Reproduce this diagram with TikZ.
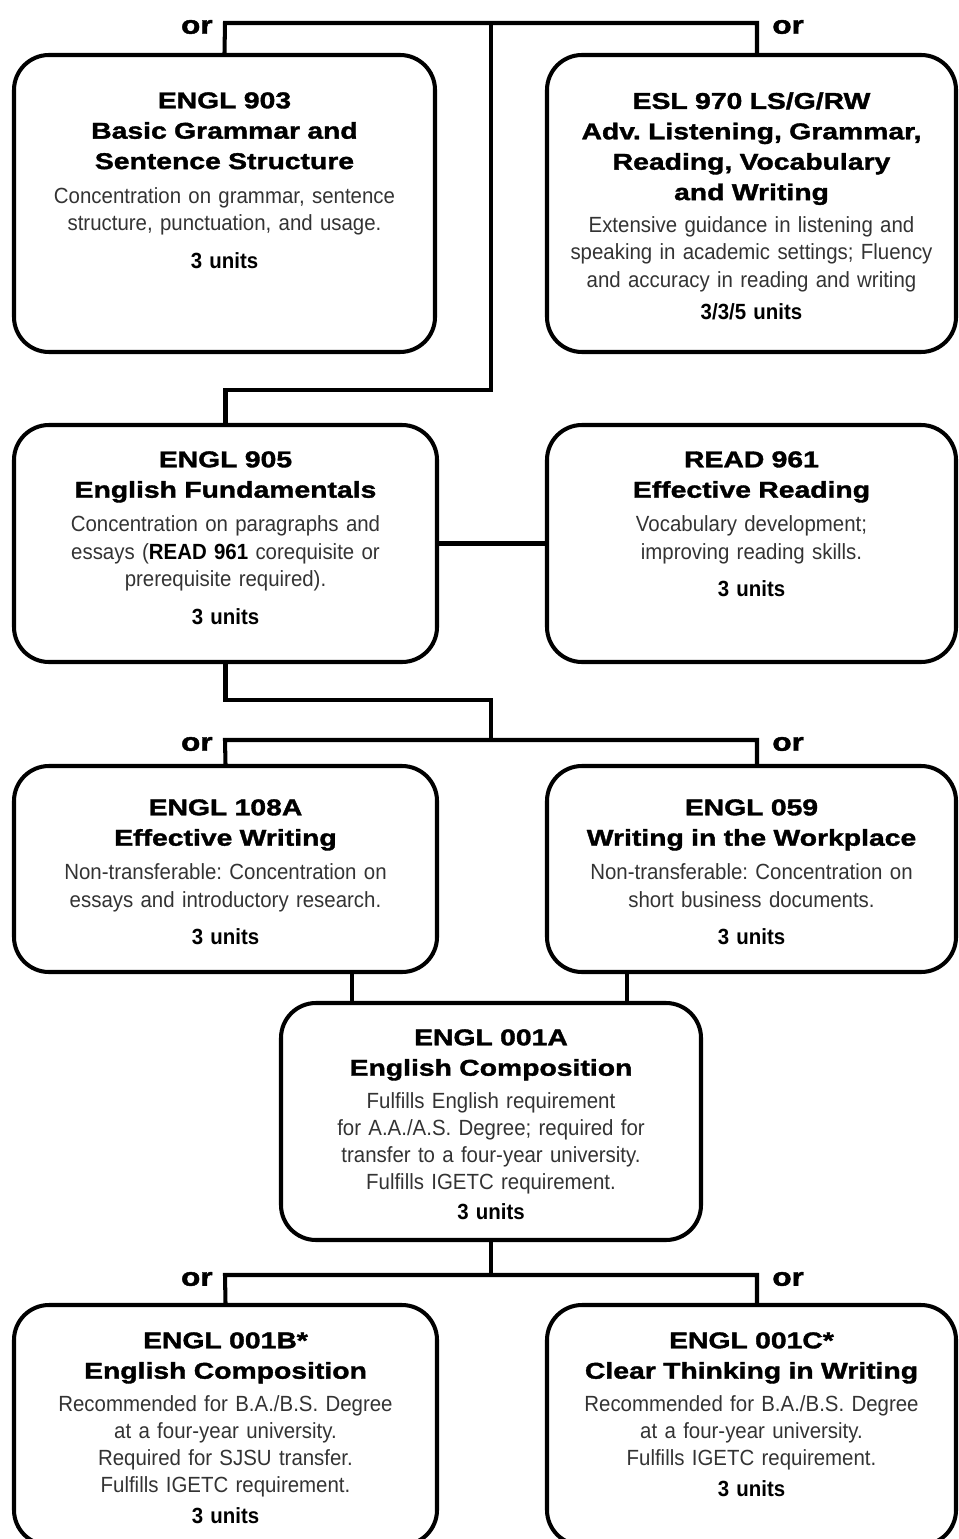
\documentclass[tikz,border=0pt]{standalone}
\usepackage{fontspec}
\setmainfont{Liberation Sans}
\newfontfamily\hdfam[FakeStretch=1.24, FakeBold=1.6]{Liberation Sans}
\newfontfamily\bodyfam[FakeStretch=0.93]{Liberation Sans}
\newcommand{\hdfont}{\hdfam\bfseries\fontsize{13}{17.3}\selectfont\color{black}}
\newcommand{\orfont}{\hdfam\bfseries\fontsize{14.5}{17}\selectfont}
\newcommand{\bodyfont}{\bodyfam\fontsize{12.5}{15.5}\selectfont\frenchspacing}
\newcommand{\unitfont}{\bodyfam\bfseries\fontsize{12.5}{15.5}\selectfont\color{black}}
\usetikzlibrary{positioning}

\tikzset{
    course/.style={draw, rounded corners=0.7cm, line width=2.3pt},
    blurb/.style={align=center, text width=8.3cm, inner sep=0pt, font=\bodyfont, text=black!80},
    link/.style={line width=2.3pt},
    orlabel/.style={font=\orfont, inner sep=0pt, yshift=-0.08cm},
}

\begin{document}
\begin{tikzpicture}
    \clip (0,0) rectangle (19.16,-30.78);

    % course boxes
    \node[course, minimum width=8.42cm, minimum height=5.94cm] (e903)   at (4.49,-4.07)   {};
    \node[course, minimum width=8.18cm, minimum height=5.94cm] (esl970) at (15.03,-4.07)  {};
    \node[course, minimum width=8.46cm, minimum height=4.74cm] (e905)   at (4.51,-10.87)  {};
    \node[course, minimum width=8.18cm, minimum height=4.74cm] (r961)   at (15.03,-10.87) {};
    \node[course, minimum width=8.46cm, minimum height=4.12cm] (e108a)  at (4.51,-17.38)  {};
    \node[course, minimum width=8.18cm, minimum height=4.12cm] (e059)   at (15.03,-17.38) {};
    \node[course, minimum width=8.40cm, minimum height=4.74cm] (e001a)  at (9.82,-22.43)  {};
    \node[course, minimum width=8.46cm, minimum height=4.80cm] (e001b)  at (4.51,-28.50)  {};
    \node[course, minimum width=8.18cm, minimum height=4.80cm] (e001c)  at (15.03,-28.50) {};

    % course texts
    \node[blurb, below=0.78cm of e903.north] (e903t) {%
        {\hdfont ENGL 903\\ Basic Grammar and\\ Sentence Structure\\[4pt]}
        Concentration on grammar, sentence\\ structure, punctuation, and usage.\\[6pt]
        {\unitfont 3 units}};
    \node[blurb, below=0.78cm of esl970.north] (esl970t) {%
        {\hdfont ESL 970 LS/G/RW\\ Adv. Listening, Grammar,\\ Reading, Vocabulary\\ and Writing\\[3pt]}
        Extensive guidance in listening and\\ speaking in academic settings; Fluency\\ and accuracy in reading and writing\\[3pt]
        {\unitfont 3/3/5 units}};
    \node[blurb, below=0.56cm of e905.north] (e905t) {%
        {\hdfont ENGL 905\\ English Fundamentals\\[4pt]}
        Concentration on paragraphs and\\ essays ({\unitfont READ 961} corequisite or\\ prerequisite required).\\[6pt]
        {\unitfont 3 units}};
    \node[blurb, below=0.56cm of r961.north] (r961t) {%
        {\hdfont READ 961\\ Effective Reading\\[4pt]}
        Vocabulary development;\\ improving reading skills.\\[6pt]
        {\unitfont 3 units}};
    \node[blurb, below=0.7cm of e108a.north] (e108at) {%
        {\hdfont ENGL 108A\\ Effective Writing\\[4pt]}
        Non-transferable: Concentration on\\ essays and introductory research.\\[6pt]
        {\unitfont 3 units}};
    \node[blurb, below=0.7cm of e059.north] (e059t) {%
        {\hdfont ENGL 059\\ Writing in the Workplace\\[4pt]}
        Non-transferable: Concentration on\\ short business documents.\\[6pt]
        {\unitfont 3 units}};
    \node[blurb, below=0.56cm of e001a.north] (e001at) {%
        {\hdfont ENGL 001A\\ English Composition\\[3pt]}
        Fulfills English requirement\\ for A.A./A.S. Degree; required for\\ transfer to a four-year university.\\ Fulfills IGETC requirement.\\[1.5pt]
        {\unitfont 3 units}};
    \node[blurb, below=0.58cm of e001b.north] (e001bt) {%
        {\hdfont ENGL 001B*\\ English Composition\\[3pt]}
        Recommended for B.A./B.S. Degree\\ at a four-year university.\\ Required for SJSU transfer.\\ Fulfills IGETC requirement.\\[2pt]
        {\unitfont 3 units}};
    \node[blurb, below=0.58cm of e001c.north] (e001ct) {%
        {\hdfont ENGL 001C*\\ Clear Thinking in Writing\\[3pt]}
        Recommended for B.A./B.S. Degree\\ at a four-year university.\\ Fulfills IGETC requirement.\\[2pt]
        {\unitfont 3 units}};

    % junction points
    \coordinate (t1) at (4.5,-0.46);
    \coordinate (t2) at (15.14,-0.46);
    \coordinate (top) at (9.82,-0.46);
    \coordinate (mid1) at (9.82,-7.8);
    \coordinate (mid2) at (9.82,-14.0);
    \coordinate (f1) at (4.5,-14.8);
    \coordinate (f2) at (15.14,-14.8);
    \coordinate (fork2) at (9.82,-14.8);
    \coordinate (b1) at (4.5,-25.5);
    \coordinate (b2) at (15.14,-25.5);

    % connectors
    \draw[link] (e903.north) -- (t1) -- (t2) -- (t2 |- esl970.north);
    \draw[link] (top) -- (mid1) -| (e905.north);
    \draw[link] (e905.east) -- (r961.west);
    \draw[link] (e905.south) |- (mid2) -- (fork2);
    \draw[link] (e108a.north) -- (f1) -- (f2) -- (f2 |- e059.north);
    \draw[link] ([xshift=-2.78cm]e001a.north) -- ([xshift=-2.78cm]e001a.north |- e108a.south);
    \draw[link] ([xshift=2.72cm]e001a.north) -- ([xshift=2.72cm]e001a.north |- e059.south);
    \draw[link] (e001a.south) -- (e001a.south |- b1);
    \draw[link] (e001b.north) -- (b1) -- (b2) -- (b2 |- e001c.north);

    % or labels
    \node[orlabel, left=0.24cm of t1]  (or1) {or};
    \node[orlabel, right=0.3cm of t2]  (or2) {or};
    \node[orlabel, left=0.24cm of f1]  (or3) {or};
    \node[orlabel, right=0.3cm of f2]  (or4) {or};
    \node[orlabel, left=0.24cm of b1]  (or5) {or};
    \node[orlabel, right=0.3cm of b2]  (or6) {or};
\end{tikzpicture}
\end{document}
